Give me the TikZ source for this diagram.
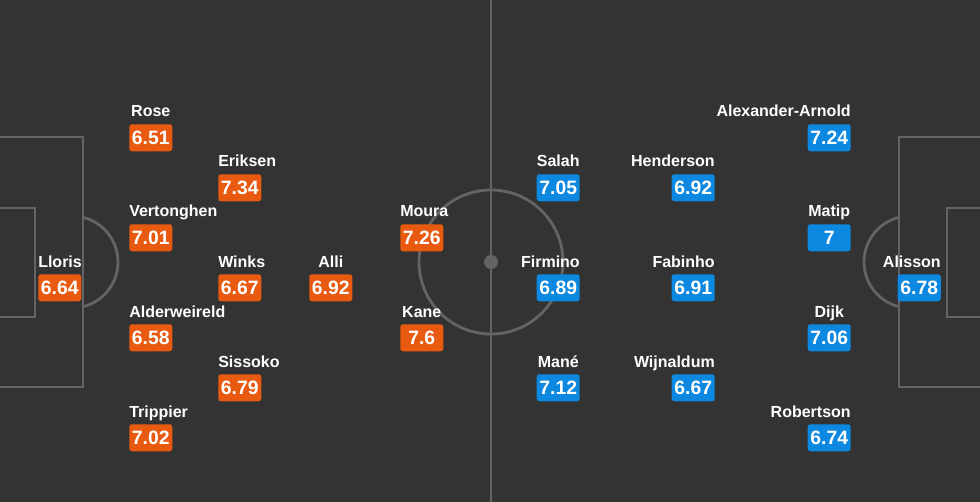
\documentclass[tikz,border=0pt]{standalone}
\usepackage{fontspec}
\setmainfont{Liberation Sans}
\usetikzlibrary{positioning}
\definecolor{pitch}{RGB}{51,51,51}
\definecolor{pitchline}{RGB}{100,100,100}
\definecolor{spursorange}{RGB}{232,90,15}
\definecolor{redsblue}{RGB}{12,136,224}
\begin{document}
\begin{tikzpicture}[
  x=0.75pt, y=-0.75pt,
  marking/.style={draw=pitchline, line width=2.1pt},
  rating/.style={rectangle, rounded corners=2pt, minimum width=32.25pt, minimum height=20.25pt, inner sep=0pt, text=white, font=\bfseries\fontsize{14.5}{14.5}\selectfont},
  home/.style={rating, fill=spursorange, anchor=north west},
  away/.style={rating, fill=redsblue, anchor=north east},
  pname/.style={text=white, minimum width=32.25pt, inner sep=0pt, font=\bfseries\fontsize{12}{12}\selectfont},
  homename/.style={pname, anchor=base west},
  awayname/.style={pname, anchor=base east}
]
\clip (0,0) rectangle (980,502);
\fill[pitch] (0,0) rectangle (980,502);

% pitch markings
\draw[marking] (491,-5) -- (491,507);
\draw[marking] (491,262) circle[radius=72];
\fill[pitchline] (491,262) circle[radius=7];
\draw[marking] (-5,137) -- (83,137) -- (83,387) -- (-5,387);
\draw[marking] (-5,208) -- (35,208) -- (35,317) -- (-5,317);
\draw[marking] (985,137) -- (899,137) -- (899,387) -- (985,387);
\draw[marking] (985,208) -- (947,208) -- (947,317) -- (985,317);
\begin{scope}
  \clip (83,0) rectangle (200,502);
  \draw[marking] (72,262) circle[radius=46];
\end{scope}
\begin{scope}
  \clip (780,0) rectangle (899,502);
  \draw[marking] (910,262) circle[radius=46];
\end{scope}

% Tottenham
\node[home] (lloris) at (38,274) {6.64};
\node[home] (rose) at (129,124) {6.51};
\node[home] (vertonghen) at (129,224) {7.01};
\node[home] (alderweireld) at (129,324) {6.58};
\node[home] (trippier) at (129,424) {7.02};
\node[home] (eriksen) at (218,174) {7.34};
\node[home] (winks) at (218,274) {6.67};
\node[home] (sissoko) at (218,374) {6.79};
\node[home] (alli) at (309,274) {6.92};
\node[home] (moura) at (400,224) {7.26};
\node[home] (kane) at (400,324) {7.6};

\node[homename] (llorisname) at ([yshift=5.25pt]lloris.north west) {Lloris};
\node[homename] (rosename) at ([yshift=5.25pt]rose.north west) {Rose};
\node[homename] (vertonghenname) at ([yshift=5.25pt]vertonghen.north west) {Vertonghen};
\node[homename] (alderweireldname) at ([yshift=5.25pt]alderweireld.north west) {Alderweireld};
\node[homename] (trippiername) at ([yshift=5.25pt]trippier.north west) {Trippier};
\node[homename] (eriksenname) at ([yshift=5.25pt]eriksen.north west) {Eriksen};
\node[homename] (winksname) at ([yshift=5.25pt]winks.north west) {Winks};
\node[homename] (sissokoname) at ([yshift=5.25pt]sissoko.north west) {Sissoko};
\node[homename] (alliname) at ([yshift=5.25pt]alli.north west) {Alli};
\node[homename] (mouraname) at ([yshift=5.25pt]moura.north west) {Moura};
\node[homename] (kanename) at ([yshift=5.25pt]kane.north west) {Kane};

% Liverpool
\node[away] (alisson) at (941,274) {6.78};
\node[away] (alexanderarnold) at (851,124) {7.24};
\node[away] (matip) at (851,224) {7};
\node[away] (dijk) at (851,324) {7.06};
\node[away] (robertson) at (851,424) {6.74};
\node[away] (henderson) at (715,174) {6.92};
\node[away] (fabinho) at (715,274) {6.91};
\node[away] (wijnaldum) at (715,374) {6.67};
\node[away] (salah) at (580,174) {7.05};
\node[away] (firmino) at (580,274) {6.89};
\node[away] (mane) at (580,374) {7.12};

\node[awayname] (alissonname) at ([yshift=5.25pt]alisson.north east) {Alisson};
\node[awayname] (alexanderarnoldname) at ([yshift=5.25pt]alexanderarnold.north east) {Alexander-Arnold};
\node[awayname] (matipname) at ([yshift=5.25pt]matip.north east) {Matip};
\node[awayname] (dijkname) at ([yshift=5.25pt]dijk.north east) {Dijk};
\node[awayname] (robertsonname) at ([yshift=5.25pt]robertson.north east) {Robertson};
\node[awayname] (hendersonname) at ([yshift=5.25pt]henderson.north east) {Henderson};
\node[awayname] (fabinhoname) at ([yshift=5.25pt]fabinho.north east) {Fabinho};
\node[awayname] (wijnaldumname) at ([yshift=5.25pt]wijnaldum.north east) {Wijnaldum};
\node[awayname] (salahname) at ([yshift=5.25pt]salah.north east) {Salah};
\node[awayname] (firminoname) at ([yshift=5.25pt]firmino.north east) {Firmino};
\node[awayname] (manename) at ([yshift=5.25pt]mane.north east) {Mané};
\end{tikzpicture}
\end{document}
